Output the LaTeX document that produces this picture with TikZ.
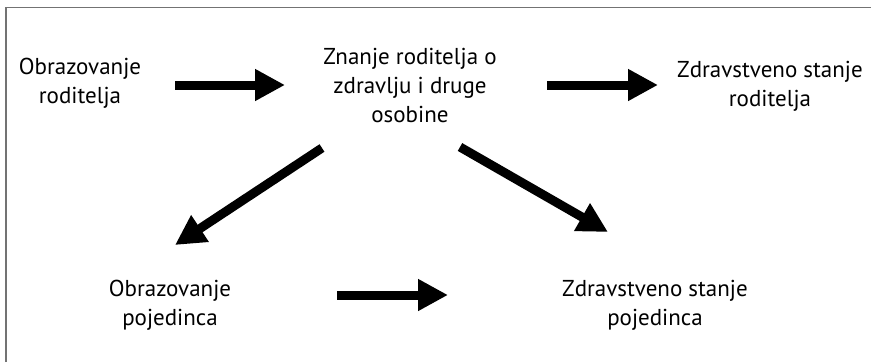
\documentclass[tikz,border=0pt]{standalone}
\usepackage{fontspec}
\setmainfont{PT Sans}
\usetikzlibrary{arrows.meta,positioning}

\begin{document}
\begin{tikzpicture}[x=1pt,y=-1pt,
  box/.style={align=center,inner sep=0pt,font=\fontsize{23}{29}\selectfont},
  fat/.style={line width=9pt,-{Triangle[length=30pt,width=30pt]}}]
  \useasboundingbox (0,0) rectangle (871,362);
  \draw[black!55,line width=1.5pt] (6,362) -- (6,7.5) -- (871,7.5);
  % nodes
  \node[box] (or) at (80,83)  {Obrazovanje\\roditelja};
  \node[box] (zn) at (410,85) {Znanje roditelja o\\zdravlju i druge\\osobine};
  \node[box] (zr) at (770,86) {Zdravstveno stanje\\roditelja};
  \node[box] (op) at (170,305) {Obrazovanje\\pojedinca};
  \node[box] (zp) at (655,305) {Zdravstveno stanje\\pojedinca};
  % arrow ends
  \coordinate (a1) at (175,85);  \coordinate (b1) at (285,85);
  \coordinate (a2) at (547,85);  \coordinate (b2) at (658,85);
  \coordinate (a3) at (322,148); \coordinate (b3) at (175,245);
  \coordinate (a4) at (460,147); \coordinate (b4) at (608,232);
  \coordinate (a5) at (337,295); \coordinate (b5) at (448,295);
  \draw[fat] (a1) -- (b1);
  \draw[fat] (a2) -- (b2);
  \draw[fat] (a3) -- (b3);
  \draw[fat] (a4) -- (b4);
  \draw[fat] (a5) -- (b5);
\end{tikzpicture}
\end{document}
